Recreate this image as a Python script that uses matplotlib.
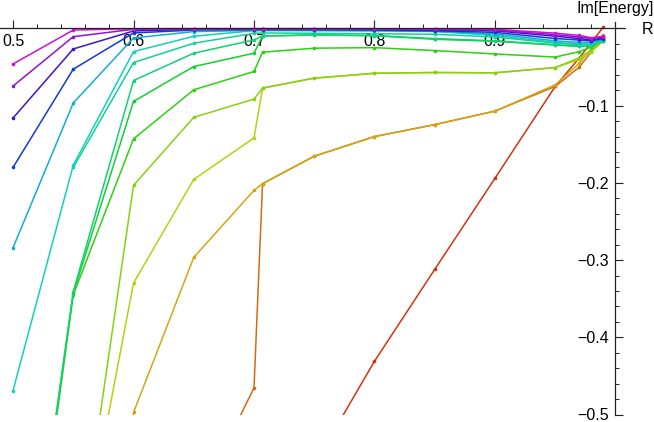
import colorsys
import numpy as np
import matplotlib
matplotlib.use("Agg")
import matplotlib.pyplot as plt
from matplotlib.ticker import MultipleLocator, FixedLocator

plt.rcParams['font.family'] = ['Liberation Sans', 'DejaVu Sans']

nan = np.nan
R = [0.5, 0.55, 0.6, 0.65, 0.7, 0.7071, 0.75, 0.8, 0.85, 0.9, 0.95, 0.97, 0.98, 0.99]

# Im[Energy] for each branch, top (magenta) to bottom (red)
hues = [0.83, 0.78, 0.71, 0.63, 0.53, 0.48, 0.45, 0.42, 0.36, 0.31, 0.23, 0.19, 0.13, 0.08, 0.03]
im_energy = [
    [-0.046, -0.002, -0.0003, -0.0002, -0.0002, -0.0002, -0.0002, -0.0003, -0.0005, -0.001, -0.006, -0.009, -0.012, -0.010],
    [-0.0746, -0.0106, -0.001, -0.0005, -0.0004, -0.0004, -0.0005, -0.0007, -0.001, -0.002, -0.008, -0.011, -0.013, -0.011],
    [-0.116, -0.0265, -0.0032, -0.001, -0.0008, -0.0008, -0.0009, -0.0012, -0.002, -0.003, -0.010, -0.013, -0.015, -0.012],
    [-0.180, -0.0527, -0.0058, -0.002, -0.0015, -0.0015, -0.0017, -0.002, -0.003, -0.005, -0.013, -0.015, -0.016, -0.013],
    [-0.284, -0.0965, -0.0123, -0.004, -0.0025, -0.0025, -0.0025, -0.0028, -0.0035, -0.007, -0.016, -0.018, -0.018, -0.014],
    [-0.469, -0.177, -0.0299, -0.0101, -0.0028, -0.0026, -0.0027, -0.003, -0.004, -0.009, -0.018, -0.020, -0.020, -0.015],
    [nan, -0.180, -0.0441, -0.0191, -0.0062, -0.0058, -0.0062, -0.0068, -0.0075, -0.011, -0.019, -0.021, -0.021, -0.016],
    [-0.9, -0.341, -0.0674, -0.032, -0.0148, -0.0097, -0.0084, -0.0093, -0.013, -0.016, -0.021, -0.023, -0.022, -0.016],
    [-0.9, -0.343, -0.0945, -0.0493, -0.032, -0.0097, -0.0084, -0.0093, -0.014, -0.0165, -0.0215, -0.023, -0.022, -0.016],
    [-0.92, -0.345, -0.143, -0.0794, -0.0557, -0.0307, -0.0255, -0.0248, -0.0286, -0.033, -0.037, -0.030, -0.024, -0.015],
    [nan, -0.74, -0.2032, -0.1151, -0.0914, -0.0772, -0.0643, -0.058, -0.057, -0.0574, -0.0506, -0.038, -0.028, -0.015],
    [nan, -0.74, -0.3297, -0.1955, -0.1417, -0.0772, -0.0643, -0.058, -0.057, -0.0574, -0.0506, -0.040, -0.030, -0.016],
    [nan, -1.5, -0.4974, -0.2965, -0.2097, -0.201, -0.1654, -0.140, -0.1245, -0.107, -0.073, -0.045, -0.026, -0.008],
    [nan, nan, nan, -0.624, -0.4655, -0.201, -0.1654, -0.140, -0.1245, -0.107, -0.075, -0.050, -0.030, -0.010],
    [nan, nan, nan, nan, nan, nan, -0.565, -0.431, -0.312, -0.194, -0.075, -0.038, -0.018, 0.002],
]

fig = plt.figure(figsize=(6.54, 4.22), dpi=100)
ax = fig.add_axes([0, (422 - 414.5) / 422, 625 / 654, (414.5 - 21.7) / 422])

# draw red first, magenta last (so merged branches show the upper colour)
for h, vals in reversed(list(zip(hues, im_energy))):
    col = colorsys.hsv_to_rgb(h, 0.92, 0.82)
    ax.plot(R, vals, '-', color=col, lw=1.1, marker='o', ms=2.6, mew=0)

ax.set_xlim(0.4892, 1.0079)
ax.set_ylim(-0.5, 0.0088)

for s in ['top', 'right']:
    ax.spines[s].set_visible(False)
ax.spines['bottom'].set_position(('data', 0))
ax.spines['left'].set_position(('data', 1.0))
for s in ['bottom', 'left']:
    ax.spines[s].set_color('#222222')
    ax.spines[s].set_linewidth(0.9)

ax.xaxis.set_major_locator(FixedLocator([0.5, 0.6, 0.7, 0.8, 0.9]))
ax.xaxis.set_minor_locator(MultipleLocator(0.02))
ax.yaxis.set_major_locator(FixedLocator([-0.1, -0.2, -0.3, -0.4, -0.5]))
ax.yaxis.set_minor_locator(MultipleLocator(0.02))
ax.tick_params(axis='x', which='both', direction='in', pad=4, labelsize=11.5, color='#222222')
ax.tick_params(axis='y', which='both', direction='in', pad=5, labelsize=11.5, color='#222222')
ax.tick_params(which='major', length=5.5, width=0.8)
ax.tick_params(which='minor', length=3.2, width=0.7)
ax.set_xticklabels(['0.5', '0.6', '0.7', '0.8', '0.9'])
ax.set_yticklabels(['\u22120.1', '\u22120.2', '\u22120.3', '\u22120.4', '\u22120.5'])

fig.text(615 / 654, 1 - 9 / 422, 'Im[Energy]', ha='center', va='center', fontsize=11.5)
fig.text(642 / 654, 1 - 29 / 422, 'R', ha='left', va='center', fontsize=11.5)

fig.savefig('out.png', dpi=100)
